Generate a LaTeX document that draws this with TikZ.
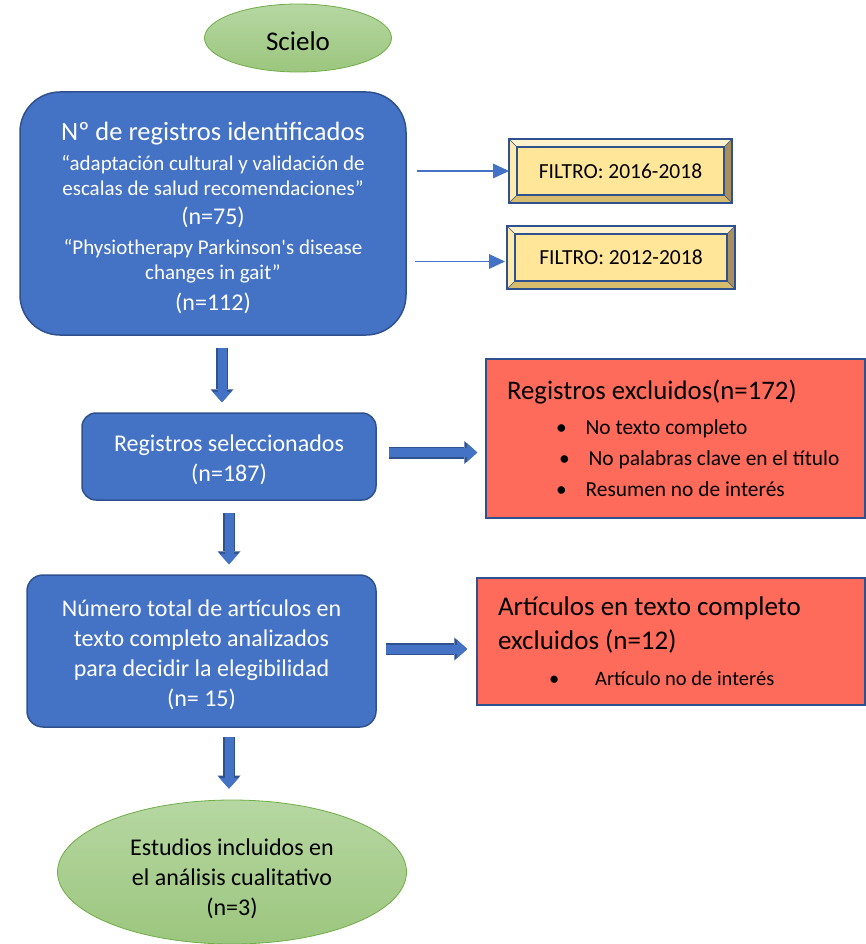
\documentclass[tikz,border=0pt]{standalone}
\usepackage{fontspec}
\setmainfont{Carlito}
\usetikzlibrary{calc,arrows.meta,shapes.geometric}
\tikzset{>=latex}
\definecolor{boxblue}{HTML}{4472C4}
\definecolor{edgeblue}{HTML}{2F528F}
\definecolor{coral}{HTML}{FF6B5B}
\definecolor{sand}{HTML}{FFE699}
\definecolor{sandlight}{HTML}{FFF2CC}
\definecolor{sandpale}{HTML}{FDEAAE}
\definecolor{sanddark}{HTML}{A8905E}
\definecolor{sandtan}{HTML}{D8BC6E}
\definecolor{leafa}{HTML}{B6D7A2}
\definecolor{leafb}{HTML}{9CC67E}
\definecolor{leafedge}{HTML}{70AD47}

\begin{document}
\begin{tikzpicture}[x=1pt, y=-1pt,
blue box/.style={draw=edgeblue, line width=1.5pt, fill=boxblue, text=white, align=center, inner sep=0pt, font=\fontsize{24}{30}\selectfont},
coral box/.style={draw=edgeblue, line width=1.5pt, fill=coral, align=left, inner xsep=21pt, inner ysep=0pt},
filter box/.style={draw=edgeblue, line width=1.5pt, fill=sand, outer sep=0pt, font=\fontsize{21.5}{24}\selectfont},
leaf/.style={ellipse, draw=leafedge, line width=0.8pt, top color=leafa, bottom color=leafb, inner sep=0pt, align=center},
thin arrow/.style={draw=boxblue, line width=1.2pt, -{Triangle[width=15pt,length=16pt,line width=0pt]}},
block arrow/.style={draw=boxblue, line width=9pt, -{Triangle[width=19pt,length=10.5pt,line width=0pt]},
  preaction={draw=edgeblue, line width=12pt, -{Triangle[width=23pt,length=13pt,line width=0pt]}}}
]
\useasboundingbox (0,0) rectangle (866,944);

\node[leaf, minimum width=187pt, minimum height=68pt, font=\fontsize{27}{30}\selectfont] (scielo) at (298,38) {\rule{0pt}{26pt}Scielo};

\node[blue box, rounded corners=40pt, minimum width=386pt, minimum height=243pt, font=\fontsize{21}{25}\selectfont] (ident) at (213,213.5)
{{\fontsize{26.5}{25}\selectfont \rule{0pt}{28pt}Nº de registros identificados}\\[5pt]
“adaptación cultural y validación de\\
escalas de salud recomendaciones”\\[4pt]
{\fontsize{24}{25}\selectfont (n=75)}\\[5pt]
“Physiotherapy Parkinson\textquotesingle s disease\\
changes in gait”\\[6pt]
{\fontsize{24}{25}\selectfont (n=112)}};

\node[filter box, minimum width=223pt, minimum height=64pt] (f1) at (620.5,171) {FILTRO: 2016-2018};
\node[filter box, minimum width=228pt, minimum height=63pt] (f2) at (621,257.5) {FILTRO: 2012-2018};
\foreach \f in {f1,f2}{
  \fill[sandlight] (\f.north west) -- (\f.north east) -- ([shift={(-8pt,-8pt)}]\f.north east) -- ([shift={(8pt,-8pt)}]\f.north west) -- cycle;
  \fill[sandpale] (\f.north west) -- ([shift={(8pt,-8pt)}]\f.north west) -- ([shift={(8pt,8pt)}]\f.south west) -- (\f.south west) -- cycle;
  \fill[sanddark] (\f.north east) -- (\f.south east) -- ([shift={(-8pt,8pt)}]\f.south east) -- ([shift={(-8pt,-8pt)}]\f.north east) -- cycle;
  \fill[sandtan] (\f.south west) -- ([shift={(8pt,8pt)}]\f.south west) -- ([shift={(-8pt,8pt)}]\f.south east) -- (\f.south east) -- cycle;
  \draw[edgeblue, line width=0.6pt] (\f.north west) -- ([shift={(8pt,-8pt)}]\f.north west)
    (\f.north east) -- ([shift={(-8pt,-8pt)}]\f.north east)
    (\f.south west) -- ([shift={(8pt,8pt)}]\f.south west)
    (\f.south east) -- ([shift={(-8pt,8pt)}]\f.south east);
  \draw[edgeblue, line width=1.5pt] ([shift={(8pt,-8pt)}]\f.north west) rectangle ([shift={(-8pt,8pt)}]\f.south east);
  \draw[edgeblue, line width=1.5pt] (\f.north west) rectangle (\f.south east);
}

\node[blue box, rounded corners=14pt, minimum width=294pt, minimum height=87pt] (sel) at (229,456.5)
{\rule{0pt}{24pt}Registros seleccionados\\(n=187)};

\node[coral box, text width=337pt, minimum height=159pt, font=\fontsize{21.4}{31}\selectfont] (excl) at (675.5,438.5)
{\parindent=0pt\spaceskip=0pt\xspaceskip=0pt
{\fontsize{26.8}{31}\selectfont Registros excluidos(n=172)\par}
\vspace{4pt}
\hspace*{49pt}•\hspace{19pt}No texto completo\par
\hspace*{52pt}•\hspace{19pt}No palabras clave en el título\par
\hspace*{49pt}•\hspace{19pt}Resumen no de interés\par};

\node[blue box, rounded corners=16pt, minimum width=349pt, minimum height=152pt] (total) at (201.5,651)
{\rule{0pt}{25pt}Número total de artículos en\\texto completo analizados\\para decidir la elegibilidad\\(n= 15)};

\node[coral box, text width=346pt, minimum height=127pt, font=\fontsize{20.5}{34}\selectfont] (excl2) at (671,641.5)
{\parindent=0pt\spaceskip=0pt\xspaceskip=0pt
{\fontsize{27}{34}\selectfont Artículos en texto completo\\excluidos (n=12)\par}
\vspace{2pt}
\hspace*{51pt}•\hspace{36pt}Artículo no de interés\par};

\node[leaf, minimum width=349pt, minimum height=144pt, font=\fontsize{24}{30}\selectfont] (incl) at (232,872)
{\rule{0pt}{31pt}Estudios incluidos en\\el análisis cualitativo\\(n=3)};

\draw[thin arrow] ($(ident.east |- f1.west)+(10,0)$) -- (f1.west);
\draw[thin arrow] ($(ident.east |- f2.west)+(8,4)$) -- ($(f2.west)+(-2,4)$);
\draw[block arrow] ($(ident.south)+(9,12)$) -- ($(sel.north)+(-7,-10)$);
\draw[block arrow] ($(sel.south)+(0,12)$) -- ($(total.north)+(27.5,-10)$);
\draw[block arrow] ($(total.south)+(27.5,9)$) -- ($(incl.north)+(-3,-11)$);
\draw[block arrow] ($(sel.east)+(12,-4)$) -- ($(excl.west)+(-8,14)$);
\draw[block arrow] ($(total.east)+(9,-2)$) -- ($(excl2.west)+(-9,7.5)$);
\end{tikzpicture}
\end{document}
